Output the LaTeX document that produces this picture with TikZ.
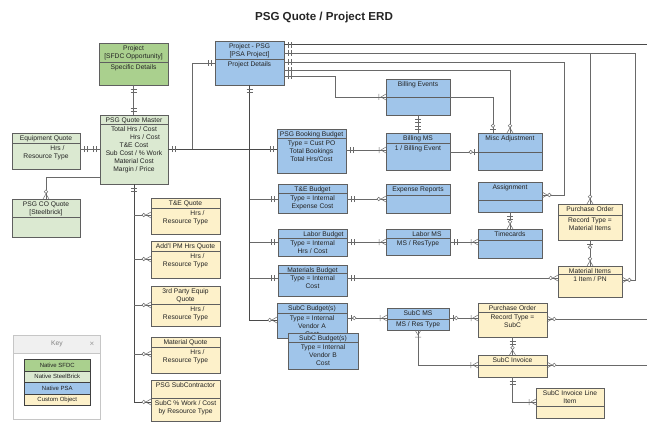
\documentclass[tikz,border=0pt]{standalone}
\usepackage{fontspec}
\setmainfont{Liberation Sans}
\usetikzlibrary{decorations.markings}
\definecolor{sfdc}{RGB}{170,208,142}
\definecolor{sbrick}{RGB}{219,233,209}
\definecolor{psa}{RGB}{160,197,234}
\definecolor{cust}{RGB}{253,241,202}
\definecolor{edge}{RGB}{95,95,95}
\definecolor{conn}{RGB}{105,105,105}
\definecolor{txtc}{RGB}{35,35,35}

\newcommand\erOne[1]{\draw[erm,xscale=#1] (4pt,-3pt)--(4pt,3pt) (7pt,-3pt)--(7pt,3pt);}
\newcommand\erMany[1]{\draw[erm,xscale=#1] (0pt,-3pt)--(5pt,0pt)--(0pt,3pt) (7pt,-3pt)--(7pt,3pt);}
\newcommand\erZeroMany[1]{\draw[erm,xscale=#1] (0pt,-3pt)--(5pt,0pt)--(0pt,3pt); \draw[erm,fill=white,xscale=#1] (7.3pt,0pt) circle (1.8pt);}
\newcommand\erZeroOne[1]{\draw[erm,xscale=#1] (4pt,-3pt)--(4pt,3pt); \draw[erm,fill=white,xscale=#1] (7.3pt,0pt) circle (1.8pt);}

\tikzset{
  ebox/.style={draw=edge, line width=0.6pt, inner sep=0pt, outer sep=0pt, rectangle},
  divl/.style={draw=edge, line width=0.6pt},
  txt/.style={font=\fontsize{6.7}{8}\selectfont, text=txtc, inner sep=0pt, align=center},
  cn/.style={draw=conn, line width=0.6pt},
  trunk/.style={draw=conn!70!black, line width=1pt},
  erm/.style={draw=conn, line width=0.5pt},
  keyrow/.style={draw=black!75, line width=0.6pt, minimum width=66pt, minimum height=11.5pt, anchor=north west, inner sep=0pt, font=\fontsize{6}{7}\selectfont, text=txtc},
  erS1/.style={postaction={decorate,decoration={markings,mark=at position 0 with {\erOne{1}}}}},
  erE1/.style={postaction={decorate,decoration={markings,mark=at position 0.9999 with {\erOne{-1}}}}},
  erSm/.style={postaction={decorate,decoration={markings,mark=at position 0 with {\erMany{1}}}}},
  erEm/.style={postaction={decorate,decoration={markings,mark=at position 0.9999 with {\erMany{-1}}}}},
  erS0m/.style={postaction={decorate,decoration={markings,mark=at position 0 with {\erZeroMany{1}}}}},
  erE0m/.style={postaction={decorate,decoration={markings,mark=at position 0.9999 with {\erZeroMany{-1}}}}},
  erS01/.style={postaction={decorate,decoration={markings,mark=at position 0 with {\erZeroOne{1}}}}},
  erE01/.style={postaction={decorate,decoration={markings,mark=at position 0.9999 with {\erZeroOne{-1}}}}},
}

% name, x1, y1, x2, y2, header height, fill, header, body
\newcommand\ent[9]{%
  \node[ebox, fill=#7, minimum width=#4pt-#2pt, minimum height=#5pt-#3pt, anchor=north west] (#1) at (#2,#3) {};
  \draw[divl] ([yshift=-#6pt]#1.north west) -- ([yshift=-#6pt]#1.north east);
  \node[txt, anchor=north] (#1-h) at ([yshift=-2.2pt]#1.north) {#8};
  \node[txt, anchor=north] (#1-b) at ([yshift=-#6pt-2.5pt]#1.north) {#9};
}

\begin{document}
\begin{tikzpicture}[x=1pt, y=-1pt]
\useasboundingbox (0,0) rectangle (647,425);
\fill[white] (0,0) rectangle (647,425);

\node[font=\fontsize{11.6}{13}\selectfont\bfseries, text=black!85] (title) at (324,18) {PSG Quote / Project ERD};

\ent{proj}{99}{43}{168}{85}{19}{sfdc}{Project\\{[}SFDC Opportunity{]}}{Specific Details}
\ent{master}{100}{115}{168}{184}{9}{sbrick}{PSG Quote Master}{Total Hrs / Cost\\\hspace*{22pt}Hrs / Cost\\T\&E Cost\\Sub Cost / \% Work\\Material Cost\\Margin / Price}
\ent{equip}{12}{133}{80}{169}{10}{sbrick}{Equipment Quote}{\hspace*{23pt}Hrs /\\Resource Type}
\ent{coq}{12}{199}{80}{237}{18}{sbrick}{PSG CO Quote\\{[}Steelbrick{]}}{}
\ent{psa}{215}{41}{284}{85}{18}{psa}{Project - PSG\\{[}PSA Project{]}}{Project Details}
\ent{billev}{386}{79}{450}{115}{18}{psa}{Billing Events}{}
\ent{billms}{386}{133}{450}{170}{10}{psa}{Billing MS}{1 / Billing Event}
\ent{misc}{478}{133}{542}{170}{19}{psa}{Misc Adjustment}{}
\ent{booking}{277}{129}{346}{173}{9}{psa}{PSG Booking Budget}{Type = Cust PO\\Total Bookings\\Total Hrs/Cost}
\ent{teb}{278}{184}{347}{213}{9}{psa}{T\&E Budget}{Type = Internal\\Expense Cost}
\ent{exp}{386}{184}{450}{213}{11}{psa}{Expense Reports}{}
\ent{labb}{278}{229}{347}{256}{9}{psa}{\hspace*{22pt}Labor Budget}{Type = Internal\\Hrs / Cost}
\ent{labms}{386}{229}{450}{255}{9}{psa}{\hspace*{18pt}Labor MS}{MS / ResType}
\ent{assign}{478}{182}{542}{212}{18}{psa}{Assignment}{}
\ent{timec}{478}{229}{542}{258}{11}{psa}{Timecards}{}
\ent{pomat}{558}{204}{622}{240}{11}{cust}{Purchase Order}{Record Type =\\Material Items}
\ent{matitem}{558}{266}{622}{297}{8}{cust}{Material Items}{1 Item / PN}
\ent{matb}{278}{265}{347}{296}{8}{psa}{Materials Budget}{Type = Internal\\Cost}
\ent{subca}{277}{303}{347}{338}{10}{psa}{SubC Budget(s)}{Type = Internal\\Vendor A\\Cost}
\ent{subcb}{288}{333}{358}{369}{9}{psa}{SubC Budget(s)}{Type = Internal\\Vendor B\\Cost}
\ent{subcms}{387}{308}{449}{330}{11}{psa}{SubC MS}{MS / Res Type}
\ent{posub}{478}{303}{547}{337}{9}{cust}{Purchase Order}{Record Type =\\SubC}
\ent{subinv}{478}{355}{547}{377}{10}{cust}{SubC Invoice}{}
\ent{subline}{536}{388}{604}{418}{18}{cust}{SubC Invoice Line\\Item}{}
\ent{teq}{151}{198}{220}{234}{10}{cust}{T\&E Quote}{\hspace*{24pt}Hrs /\\Resource Type}
\ent{pmq}{151}{241}{220}{278}{10}{cust}{Add'l PM Hrs Quote}{\hspace*{24pt}Hrs /\\Resource Type}
\ent{tpq}{151}{286}{220}{326}{18}{cust}{3rd Party Equip\\Quote}{\hspace*{24pt}Hrs /\\Resource Type}
\ent{matq}{151}{337}{220}{373}{10}{cust}{Material Quote}{\hspace*{24pt}Hrs /\\Resource Type}
\ent{subq}{151}{380}{220}{421}{18}{cust}{PSG SubContractor}{SubC \% Work / Cost\\by Resource Type}

% key
\node[draw=gray!45, fill=white, line width=0.6pt, minimum width=87pt, minimum height=84pt, anchor=north west, inner sep=0pt, outer sep=0pt] (key) at (13,335) {};
\node[draw=gray!45, fill=gray!12, line width=0.6pt, minimum width=87pt, minimum height=18pt, anchor=north west, inner sep=0pt, outer sep=0pt] (keyhd) at (13,335) {};
\node[txt, text=gray] (keyt) at (57,344) {Key};
\node[txt, text=gray!80, font=\fontsize{8}{8}\selectfont] (keyx) at (92,344) {×};
\node[keyrow, fill=sfdc] (k1) at (24,359) {Native SFDC};
\node[keyrow, fill=sbrick] (k2) at (24,370.5) {Native SteelBrick};
\node[keyrow, fill=psa] (k3) at (24,382) {Native PSA};
\node[keyrow, fill=cust] (k4) at (24,393.5) {Custom Object};

% connectors: left side
\draw[cn,erS1,erE1] (proj.south) -- (proj.south |- master.north);
\draw[cn,erS1,erE1] (equip.east |- 0,149) -- (master.west |- 0,149);
\draw[cn,erE0m] (master.west |- 0,177) -| (coq.north);
\draw[trunk,erS1,erE1] (master.east |- 0,149) -- (booking.west |- 0,149);
\coordinate (j1) at (192,149);
\draw[cn,erE1] (j1) |- (psa.west |- 0,63);

% quote trunk
\draw[trunk,erS1,erE0m] (master.south) |- (subq.west |- 0,402);
\draw[cn,erE0m] (master.south |- 0,215) -- (teq.west |- 0,215);
\draw[cn,erE0m] (master.south |- 0,259) -- (pmq.west |- 0,259);
\draw[cn,erE0m] (master.south |- 0,305) -- (tpq.west |- 0,305);
\draw[cn,erE0m] (master.south |- 0,354) -- (matq.west |- 0,354);

% PSA trunk
\draw[trunk,erS1,erE0m] (psa.south) |- (subca.west |- 0,320);
\draw[cn,erE1] (psa.south |- 0,199) -- (teb.west |- 0,199);
\draw[cn,erE1] (psa.south |- 0,242) -- (labb.west |- 0,242);
\draw[cn,erE1] (psa.south |- 0,278) -- (matb.west |- 0,278);

% project lines to the right
\coordinate (rA) at (647,45);
\draw[trunk,erS1] (psa.east |- 0,45) -- (rA);
\draw[cn,erS1,erE0m] (psa.east |- 0,53) -| (635,280) -- (matitem.east |- 0,280);
\draw[cn,erS1,erE0m] (psa.east |- 0,53) -| (pomat.north);
\draw[cn,erS1,erE0m] (psa.east |- 0,62) -| (564,195) -- (assign.east |- 0,195);
\draw[cn,erS1,erE0m] (psa.east |- 0,70) -| (misc.north);
\draw[cn,erS1,erEm] (psa.east |- 0,76) -| (335,97) -- (billev.west |- 0,97);

% billing
\draw[cn,erS1,erE1] (billev.south) -- (billms.north);
\draw[cn,erE01] (billev.east |- 0,97) -| ([xshift=-17pt]misc.north);
\draw[cn,erE01] (billms.east |- 0,152) -- (misc.west |- 0,152);
\draw[cn,erS1,erEm] (booking.east |- 0,150) -- (billms.west |- 0,150);

% budgets
\draw[cn,erS1,erE0m] (teb.east |- 0,199) -- (exp.west |- 0,199);
\draw[cn,erS1,erEm] (labb.east |- 0,242) -- (labms.west |- 0,242);
\draw[cn,erS1,erEm] (labms.east |- 0,242) -- (timec.west |- 0,242);
\draw[cn,erS1,erE0m] (assign.south) -- (timec.north);
\draw[cn,erS01,erE0m] (pomat.south) -- (matitem.north);
\draw[cn,erS1,erE0m] (matb.east |- 0,278) -- (matitem.west |- 0,278);

% subcontract
\draw[cn,erS01,erEm] (subca.east |- 0,318) -- (subcms.west |- 0,318);
\draw[cn,erS01,erEm] (subcms.east |- 0,318) -- (posub.west |- 0,318);
\draw[cn,erSm,erEm] (subcms.south) |- (subinv.west |- 0,365);
\coordinate (rB) at (647,319);
\draw[cn,erS0m] (posub.east |- 0,319) -- (rB);
\draw[cn,erS1,erE0m] (posub.south) -- (subinv.north);
\coordinate (rC) at (647,365);
\draw[cn,erS0m] (subinv.east |- 0,365) -- (rC);
\draw[cn,erS1,erEm] (subinv.south) |- (subline.west |- 0,402);
\end{tikzpicture}
\end{document}
